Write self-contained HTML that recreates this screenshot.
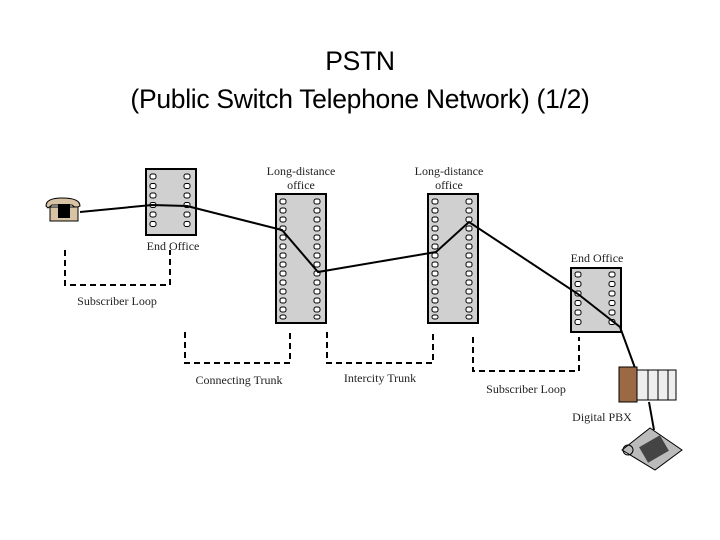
<!DOCTYPE html>
<html><head><style>
body{margin:0;width:720px;height:540px;background:#fff;overflow:hidden}
.t{position:absolute;left:0;width:720px;text-align:center;font-family:"Liberation Sans",sans-serif;font-size:26.5px;color:#000;letter-spacing:-0.3px}
</style></head><body>
<div class="t" style="top:46px">PSTN</div>
<div class="t" style="top:84px">(Public Switch Telephone Network) (1/2)</div>
<svg width="720" height="540" style="position:absolute;left:0;top:0" font-family="Liberation Serif" font-size="12">
<g fill="#d0d0d0" stroke="#000" stroke-width="2">
<rect x="146" y="169" width="50" height="66"/>
<rect x="276" y="194" width="50" height="129"/>
<rect x="428" y="194" width="50" height="129"/>
<rect x="571" y="268" width="50" height="64"/>
</g>
<g fill="#fff" stroke="#000" stroke-width="1">
<g id="h6">
<rect x="150" y="174" width="6" height="5" rx="2"/><rect x="150" y="183.5" width="6" height="5" rx="2"/><rect x="150" y="193" width="6" height="5" rx="2"/><rect x="150" y="202.5" width="6" height="5" rx="2"/><rect x="150" y="212" width="6" height="5" rx="2"/><rect x="150" y="221.5" width="6" height="5" rx="2"/>
<rect x="184" y="174" width="6" height="5" rx="2"/><rect x="184" y="183.5" width="6" height="5" rx="2"/><rect x="184" y="193" width="6" height="5" rx="2"/><rect x="184" y="202.5" width="6" height="5" rx="2"/><rect x="184" y="212" width="6" height="5" rx="2"/><rect x="184" y="221.5" width="6" height="5" rx="2"/>
</g>
<use href="#h6" x="425" y="98"/>
<g id="h14">
<rect x="280" y="199" width="6" height="5" rx="2"/><rect x="280" y="208" width="6" height="5" rx="2"/><rect x="280" y="217" width="6" height="5" rx="2"/><rect x="280" y="226" width="6" height="5" rx="2"/><rect x="280" y="235" width="6" height="5" rx="2"/><rect x="280" y="244" width="6" height="5" rx="2"/><rect x="280" y="253" width="6" height="5" rx="2"/><rect x="280" y="262" width="6" height="5" rx="2"/><rect x="280" y="271" width="6" height="5" rx="2"/><rect x="280" y="280" width="6" height="5" rx="2"/><rect x="280" y="289" width="6" height="5" rx="2"/><rect x="280" y="298" width="6" height="5" rx="2"/><rect x="280" y="307" width="6" height="5" rx="2"/><rect x="280" y="315" width="6" height="4" rx="2"/>
<rect x="314" y="199" width="6" height="5" rx="2"/><rect x="314" y="208" width="6" height="5" rx="2"/><rect x="314" y="217" width="6" height="5" rx="2"/><rect x="314" y="226" width="6" height="5" rx="2"/><rect x="314" y="235" width="6" height="5" rx="2"/><rect x="314" y="244" width="6" height="5" rx="2"/><rect x="314" y="253" width="6" height="5" rx="2"/><rect x="314" y="262" width="6" height="5" rx="2"/><rect x="314" y="271" width="6" height="5" rx="2"/><rect x="314" y="280" width="6" height="5" rx="2"/><rect x="314" y="289" width="6" height="5" rx="2"/><rect x="314" y="298" width="6" height="5" rx="2"/><rect x="314" y="307" width="6" height="5" rx="2"/><rect x="314" y="315" width="6" height="4" rx="2"/>
</g>
<use href="#h14" x="152" y="0"/>
</g>
<polyline points="80,212 152,205 187,206 282,230 318,272 436,252 469,222 578,294 620,327 635,368" fill="none" stroke="#000" stroke-width="2"/>
<g fill="none" stroke="#000" stroke-width="2" stroke-dasharray="6,4">
<polyline points="65,250 65,285 170,285 170,250"/>
<polyline points="185,332 185,363 290,363 290,332"/>
<polyline points="327,332 327,363 433,363 433,332"/>
<polyline points="473,337 473,371 579,371 579,337"/>
</g>
<g fill="#222">
<text x="173" y="250" text-anchor="middle">End Office</text>
<text x="301" y="175" text-anchor="middle">Long-distance</text>
<text x="301" y="189" text-anchor="middle">office</text>
<text x="449" y="175" text-anchor="middle">Long-distance</text>
<text x="449" y="189" text-anchor="middle">office</text>
<text x="597" y="262" text-anchor="middle">End Office</text>
<text x="117" y="305" text-anchor="middle">Subscriber Loop</text>
<text x="239" y="384" text-anchor="middle">Connecting Trunk</text>
<text x="380" y="382" text-anchor="middle">Intercity Trunk</text>
<text x="526" y="393" text-anchor="middle">Subscriber Loop</text>
<text x="602" y="421" text-anchor="middle">Digital PBX</text>
</g>
<path d="M46,206 Q46,198 62,198 Q80,198 80,206 L76,208 L72,205 L52,205 L48,208 Z" fill="#d9c3a5" stroke="#000"/>
<rect x="50" y="207" width="28" height="14" fill="#d9c3a5" stroke="#000"/>
<rect x="58" y="204" width="12" height="14" fill="#000"/>
<rect x="619" y="367" width="18" height="35" fill="#9b6a44" stroke="#000"/>
<rect x="637" y="370" width="39" height="30" fill="#eee" stroke="#000"/>
<line x1="648" y1="370" x2="648" y2="400" stroke="#000"/><line x1="658" y1="370" x2="658" y2="400" stroke="#000"/><line x1="668" y1="370" x2="668" y2="400" stroke="#000"/>
<line x1="649" y1="402" x2="654" y2="430" stroke="#000" stroke-width="2"/>
<path d="M622,450 L650,428 L682,450 L655,470 Z" fill="#bbb" stroke="#000"/>
<rect x="642" y="440" width="24" height="18" fill="#444" transform="rotate(-30 654 449)"/>
<circle cx="628" cy="450" r="5" fill="none" stroke="#000"/>
</svg>
</body></html>
